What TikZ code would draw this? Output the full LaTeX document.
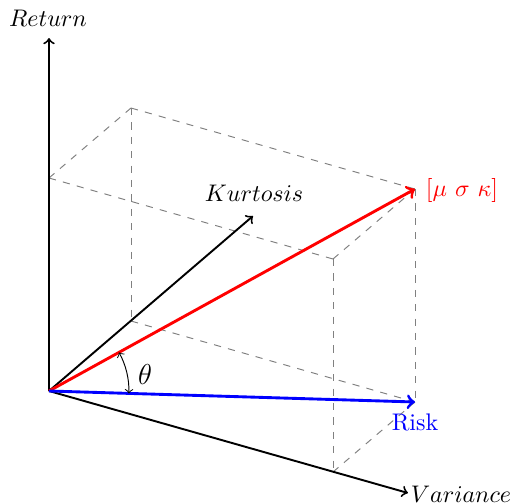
\documentclass[tikz,border=0pt]{standalone}
\usetikzlibrary{angles}
\begin{document}
\begin{tikzpicture}[x=0.4167pt,y=-0.4167pt,
  axis/.style={thick,->},
  boxline/.style={dashed,gray},
  vec/.style={very thick,->}]
\useasboundingbox (0,0) rectangle (518,503);
% corners of the box
\coordinate (O) at (49,391);
\coordinate (R) at (49,178);
\coordinate (K) at (131,321);
\coordinate (V) at (333,472);
\coordinate (RK) at (131,108);
\coordinate (RV) at (333,259);
\coordinate (VK) at (415,402);
\coordinate (P) at (415,189);
% axis ends
\coordinate (Rend) at (49,38);
\coordinate (Vend) at (408,493);
\coordinate (Kend) at (253,216);
% dashed box
\draw[boxline] (R) -- (RK);
\draw[boxline] (RK) -- (P);
\draw[boxline] (R) -- (RV);
\draw[boxline] (RV) -- (P);
\draw[boxline] (RK) -- (K);
\draw[boxline] (K) -- (VK);
\draw[boxline] (RV) -- (V);
\draw[boxline] (V) -- (VK);
\draw[boxline] (P) -- (VK);
% axes
\draw[axis] (O) -- (Rend);
\draw[axis] (O) -- (Vend);
\draw[axis] (O) -- (Kend);
\node (rl) at (48,18) {$Return$};
\node (vl) at (461,494) {$Variance$};
\node (kl) at (254,193) {$Kurtosis$};
% vectors
\draw[vec,red] (O) -- (P);
\draw[vec,blue] (O) -- (VK);
\node[red] (pl) at (462,190) {$[\mu\ \sigma\ \kappa]$};
\node[blue] (bl) at (415,422) {Risk};
% angle
\pic[draw,<->,angle radius=33.3pt] {angle=VK--O--P};
\node[font=\large] (th) at (145,374) {$\theta$};
\end{tikzpicture}
\end{document}
